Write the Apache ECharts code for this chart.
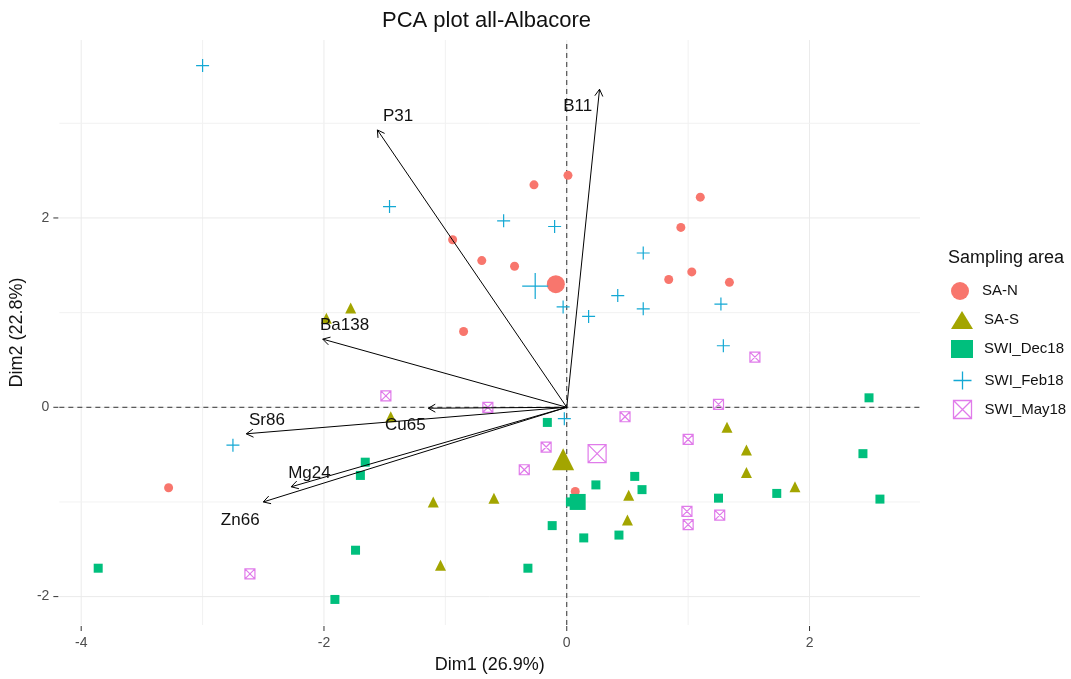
<!DOCTYPE html>
<html><head><meta charset="utf-8">
<script src="https://cdn.jsdelivr.net/npm/echarts@6/dist/echarts.min.js"></script>
<style>html,body{margin:0;padding:0;background:#fff}#c{width:1071px;height:679px}</style>
</head><body><div id="c"></div><script>
// ---------- data (PCA coordinates, Dim1 / Dim2) ----------
const groupNames = ['SA-N', 'SA-S', 'SWI_Dec18', 'SWI_Feb18', 'SWI_May18'];

const saN = [[-0.27,2.35],[0.01,2.45],[-0.94,1.77],[-0.70,1.55],[-0.43,1.49],[-0.85,0.80],
  [1.10,2.22],[0.94,1.90],[0.84,1.35],[1.03,1.43],[1.34,1.32],[-3.28,-0.85],[0.07,-0.89]];
const saS = [[-1.78,1.05],[-1.98,0.94],[-1.45,-0.10],[-1.10,-1.00],[-0.60,-0.96],[-1.04,-1.67],
  [0.51,-0.93],[0.50,-1.19],[1.32,-0.21],[1.48,-0.45],[1.48,-0.69],[1.88,-0.84]];
const swiDec18 = [[-0.16,-0.16],[-1.66,-0.58],[-1.70,-0.72],[-0.12,-1.25],[-1.74,-1.51],[-0.32,-1.70],
  [-3.86,-1.70],[-1.91,-2.03],[0.03,-1.00],[0.24,-0.82],[0.56,-0.73],[0.62,-0.87],[0.14,-1.38],
  [0.43,-1.35],[1.25,-0.96],[1.73,-0.91],[2.44,-0.49],[2.49,0.10],[2.58,-0.97]];
const swiFeb18 = [[-3.00,3.61],[-1.46,2.12],[-0.52,1.97],[-0.10,1.91],[0.63,1.63],[0.42,1.18],
  [0.18,0.96],[0.63,1.04],[-0.03,1.06],[1.27,1.09],[1.29,0.65],[-0.02,-0.12],[-2.75,-0.40]];
const swiMay18 = [[-1.49,0.12],[-0.65,0.00],[-0.17,-0.42],[-0.35,-0.66],[-2.61,-1.76],[0.48,-0.10],
  [1.25,0.03],[1.00,-0.34],[1.55,0.53],[0.99,-1.10],[1.26,-1.14],[1.00,-1.24]];

// group centres (large markers)
const groupCentres = [[-0.09,1.30],[-0.03,-0.55],[0.09,-1.00],[-0.26,1.28],[0.25,-0.49]];

// variable loadings (arrow tips) and their label anchors
const varNames = ['P31','B11','Ba138','Cu65','Sr86','Mg24','Zn66'];
const varArrows = [[-1.56,2.93],[0.27,3.36],[-2.01,0.72],[-1.14,-0.01],[-2.64,-0.28],[-2.27,-0.84],[-2.50,-1.00]];
const varLabels = [[-1.39,3.07],[0.09,3.18],[-1.83,0.87],[-1.33,-0.19],[-2.47,-0.14],[-2.12,-0.70],[-2.69,-1.19]];

const xTicks = [-4,-2,0,2];
const yTicks = [-2,0,2];
const xMinor = [-3,-1,1];
const yMinor = [-1,1,3];
const xRange = [-4.18, 2.91];
const yRange = [-2.30, 3.88];

// ---------- styling ----------
const FONT = '"Liberation Sans", Arial, sans-serif';
const colors = ['#F8766D','#A3A500','#00BF7D','#13A8D4','#E07BEA'];
const PLUS = 'path://M0,10L20,10M10,0L10,20';
const SQX = 'path://M0,0L20,0L20,20L0,20ZM0,0L20,20M20,0L0,20';
const groupData = [saN, saS, swiDec18, swiFeb18, swiMay18];
const symbols = ['circle','triangle','rect',PLUS,SQX];
const smallSize = [9,11,9,13,10];
const bigSize = [18,22,16,26,18];

function styleFor(i){
  if (i >= 3) return {color:'none', borderColor:colors[i], borderWidth:1.2, opacity:1};
  return {color:colors[i], opacity:1};
}

const series = [];
// background grid lines: [value, orientation (0 = vertical, 1 = horizontal), major flag]
const gridData = xTicks.map(v=>[v,0,1]).concat(xMinor.map(v=>[v,0,0]),
  yTicks.map(v=>[v,1,1]), yMinor.map(v=>[v,1,0]));
series.push({
  type:'custom', name:'_grid', data:gridData, silent:true, z:0, clip:false,
  renderItem:function(params, api){
    const v = api.value(0), horiz = api.value(1) === 1, major = api.value(2) === 1;
    const a = horiz ? api.coord([xRange[0], v]) : api.coord([v, yRange[0]]);
    const b = horiz ? api.coord([xRange[1], v]) : api.coord([v, yRange[1]]);
    return {type:'line', shape:{x1:a[0],y1:a[1],x2:b[0],y2:b[1]},
      style:{stroke: major ? '#EBEBEB' : '#F2F2F2', lineWidth:1}};
  }
});
// dashed zero lines
series.push({
  type:'custom', name:'_zero', data:[[0,0],[0,1]], silent:true, z:1, clip:false,
  renderItem:function(params, api){
    const horiz = api.value(1) === 1;
    const a = horiz ? api.coord([xRange[0], 0]) : api.coord([0, yRange[0]]);
    const b = horiz ? api.coord([xRange[1], 0]) : api.coord([0, yRange[1]]);
    return {type:'line', shape:{x1:a[0],y1:a[1],x2:b[0],y2:b[1]},
      style:{stroke:'#333', lineWidth:1, lineDash:[5,4]}};
  }
});
// tick marks just outside the panel
const tickData = xTicks.map(v=>[v, yRange[0], 0]).concat(yTicks.map(v=>[xRange[0], v, 1]));
series.push({
  type:'custom', name:'_ticks', data:tickData, silent:true, z:1, clip:false,
  renderItem:function(params, api){
    const p = api.coord([api.value(0), api.value(1)]);
    const vertical = api.value(2) === 0;
    const shape = vertical ? {x1:p[0], y1:p[1]+1, x2:p[0], y2:p[1]+6}
                           : {x1:p[0]-6, y1:p[1], x2:p[0]-1, y2:p[1]};
    return {type:'line', shape:shape, style:{stroke:'#333', lineWidth:1}};
  }
});
groupNames.forEach((g,i)=>{
  series.push({
    type:'scatter', name:g, data:groupData[i], symbol:symbols[i], symbolSize:smallSize[i],
    itemStyle:styleFor(i), z:2
  });
});
groupNames.forEach((g,i)=>{
  series.push({
    type:'scatter', name:g, data:[groupCentres[i]], symbol:symbols[i], symbolSize:bigSize[i],
    itemStyle:styleFor(i), z:3
  });
});
series.push({
  type:'custom', name:'_arrows', data:varArrows, z:4, silent:true,
  renderItem:function(params, api){
    const o = api.coord([0,0]);
    const e = api.coord([api.value(0), api.value(1)]);
    const ang = Math.atan2(e[1]-o[1], e[0]-o[0]);
    const L = 8, a = Math.PI/6;
    const p1 = [e[0]-L*Math.cos(ang-a), e[1]-L*Math.sin(ang-a)];
    const p2 = [e[0]-L*Math.cos(ang+a), e[1]-L*Math.sin(ang+a)];
    return {type:'group', children:[
      {type:'line', shape:{x1:o[0],y1:o[1],x2:e[0],y2:e[1]}, style:{stroke:'#000', lineWidth:1}},
      {type:'polyline', shape:{points:[p1,e,p2]}, style:{stroke:'#000', lineWidth:1, fill:null}}
    ]};
  }
});
series.push({
  type:'custom', name:'_labels', data:varLabels, z:5, silent:true,
  renderItem:function(params, api){
    const p = api.coord([api.value(0), api.value(1)]);
    return {type:'text', x:p[0], y:p[1], style:{text:varNames[params.dataIndex], fill:'#111',
      fontSize:17, fontFamily:FONT, align:'center', verticalAlign:'middle'}};
  }
});

// one legend block per group, stacked at even steps
const legendIcons = ['circle','triangle','rect',PLUS,SQX];
const legends = groupNames.map((g,i)=>{
  const d = {name:g, icon:legendIcons[i]};
  if (i>=3) d.itemStyle = {color:'none', borderColor:colors[i], borderWidth:1.3};
  return {orient:'vertical', left:951, top:282 + i*29, itemWidth:22, itemHeight:18, padding:0,
    textStyle:{fontSize:15, color:'#111', fontFamily:FONT, padding:[0,0,0,6]}, data:[d]};
});

const option = {
  animation:false,
  backgroundColor:'#fff',
  textStyle:{fontFamily:FONT},
  title:{text:'PCA plot all-Albacore', left:377, top:5,
    textStyle:{fontSize:22, fontWeight:'normal', color:'#111', fontFamily:FONT}},
  grid:{left:55, right:151, top:40, bottom:54},
  xAxis:{type:'value', min:xRange[0], max:xRange[1],
    splitLine:{show:false}, axisLine:{show:false}, axisTick:{show:false},
    axisLabel:{customValues:xTicks, fontSize:14, color:'#4D4D4D', margin:11, fontFamily:FONT},
    name:'Dim1 (26.9%)', nameLocation:'middle', nameGap:31,
    nameTextStyle:{fontSize:18, color:'#111', fontFamily:FONT}},
  yAxis:{type:'value', min:yRange[0], max:yRange[1],
    splitLine:{show:false}, axisLine:{show:false}, axisTick:{show:false},
    axisLabel:{customValues:yTicks, fontSize:14, color:'#4D4D4D', margin:10, fontFamily:FONT},
    name:'Dim2 (22.8%)', nameLocation:'middle', nameGap:16,
    nameTextStyle:{fontSize:18, color:'#111', fontFamily:FONT}},
  legend:legends,
  graphic:[{type:'text', left:948, top:249, style:{text:'Sampling area', fontSize:18, fill:'#111', fontFamily:FONT}}],
  series:series
};
const chart = echarts.init(document.getElementById('c'), null, {renderer:'canvas'});
chart.setOption(option);
</script></body></html>
